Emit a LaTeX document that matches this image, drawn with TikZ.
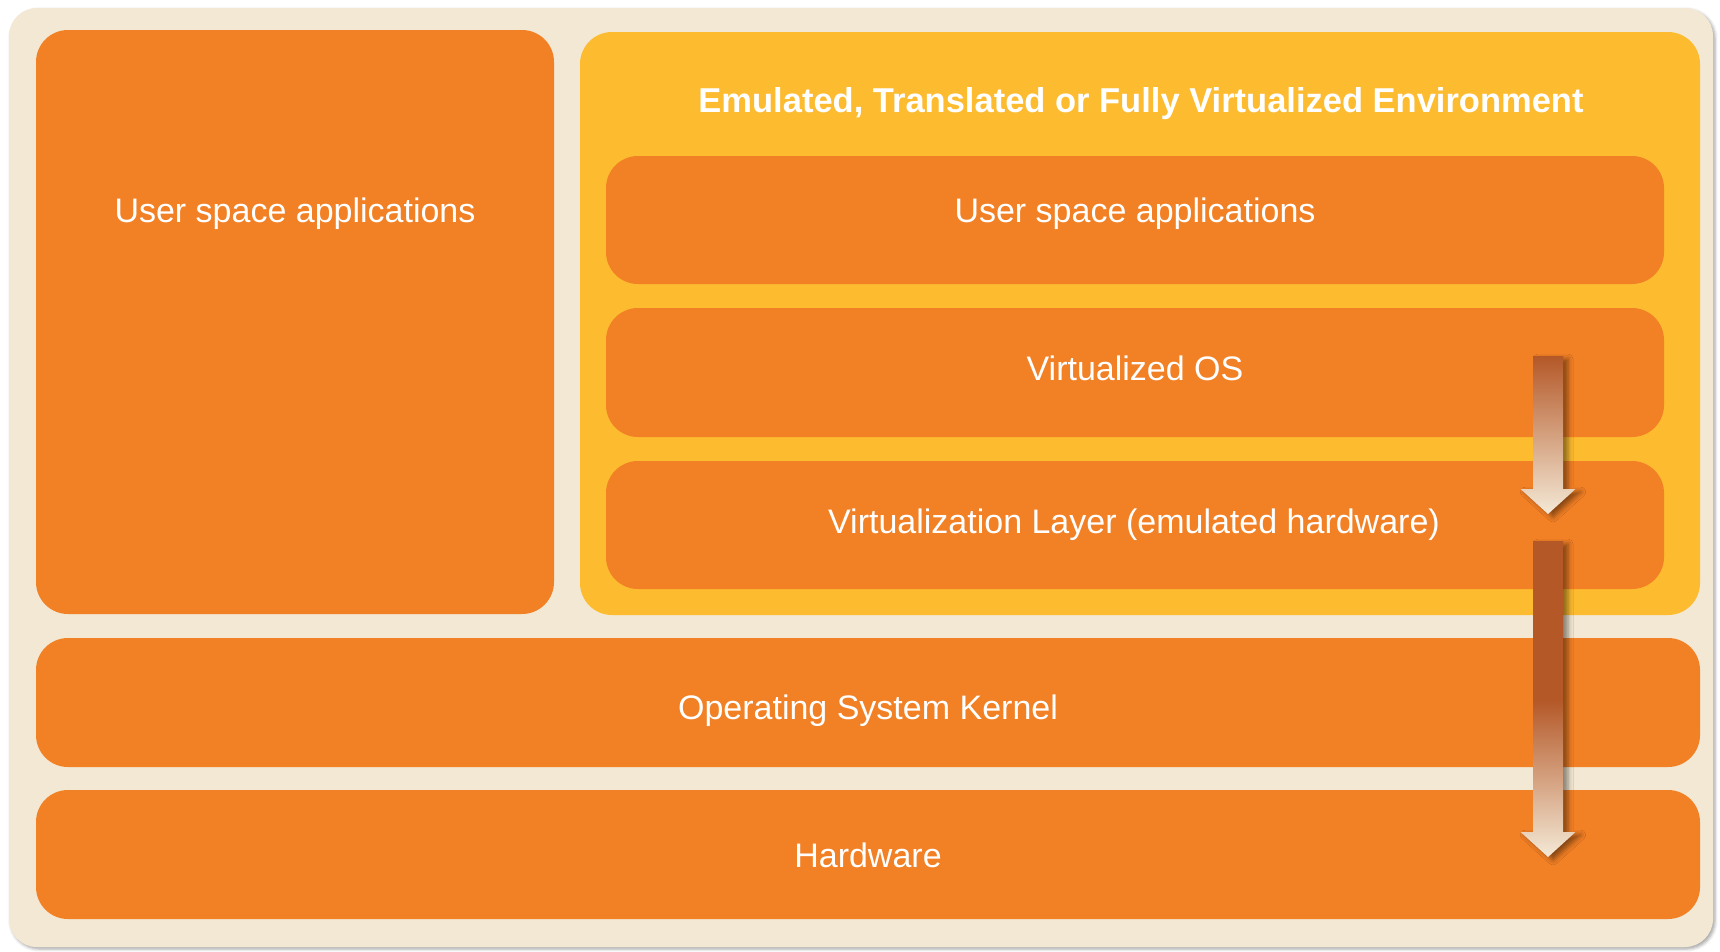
\documentclass[tikz,border=0pt]{standalone}
\usepackage{fontspec}
\setmainfont{Liberation Sans}
\usetikzlibrary{shadows.blur}

\definecolor{framecream}{HTML}{F3E8D3}
\definecolor{layerorange}{HTML}{F28025}
\definecolor{envyellow}{HTML}{FDBB30}
\definecolor{arrowdark}{HTML}{B45828}
\definecolor{arrowlight}{HTML}{F4E9D6}

\begin{document}
\begin{tikzpicture}[x=1pt,y=-1pt,
  panel/.style={rectangle, rounded corners=32pt, inner sep=0pt, draw=none},
  layer/.style={panel, fill=layerorange},
  lbl/.style={text=white, inner sep=0pt, anchor=base,
              font=\fontsize{34}{40}\selectfont},
  titlelbl/.style={lbl, font=\fontsize{34.5}{40}\selectfont\bfseries},
  flowshadow/.style={blur shadow={shadow xshift=5pt, shadow yshift=-3pt,
              shadow blur radius=5pt, shadow opacity=45}}]

\useasboundingbox (0,0) rectangle (1720,951);

% outer frame
\node[panel, rounded corners=28pt, fill=framecream,
      minimum width=1704pt, minimum height=939pt,
      blur shadow={shadow xshift=2pt, shadow yshift=-2pt,
                   shadow blur radius=3pt, shadow opacity=35}]
  (frame) at (861,477.5) {};

% host user space
\node[layer, minimum width=518pt, minimum height=584pt] (hostapps) at (295,322) {};

% virtualized environment
\node[panel, fill=envyellow, minimum width=1120pt, minimum height=583pt] (env) at (1140,323.5) {};
\node[layer, minimum width=1058pt, minimum height=128pt] (guestapps) at (1135,220) {};
\node[layer, minimum width=1058pt, minimum height=129pt] (guestos) at (1135,372.5) {};
\node[layer, minimum width=1058pt, minimum height=128pt] (vlayer) at (1135,525) {};

% host kernel and hardware
\node[layer, minimum width=1664pt, minimum height=129pt] (kernel) at (868,702.5) {};
\node[layer, minimum width=1664pt, minimum height=129pt] (hw) at (868,854.5) {};

% labels
\node[titlelbl] (envT) at (1141,112) {Emulated, Translated or Fully Virtualized Environment};
\node[lbl] (hostappsT) at (295,222) {User space applications};
\node[lbl] (guestappsT) at (1135,222) {User space applications};
\node[lbl] (guestosT) at (1135,380) {Virtualized OS};
\node[lbl] (vlayerT) at (1134,533) {Virtualization Layer (emulated hardware)};
\node[lbl] (kernelT) at (868,719) {Operating System Kernel};
\node[lbl] (hwT) at (868,867) {Hardware};

% flow arrows: guest OS -> virtualization layer -> hardware
\fill[arrowdark, flowshadow]
  (1533,356) -- (1563,356) -- (1563,489) -- (1575.5,489) -- (1548,514)
  -- (1520.5,489) -- (1533,489) -- cycle;
\shade[top color=arrowdark, bottom color=arrowlight]
  (1533,356) -- (1563,356) -- (1563,489) -- (1575.5,489) -- (1548,514)
  -- (1520.5,489) -- (1533,489) -- cycle;

\fill[arrowdark, flowshadow]
  (1533,541) -- (1563,541) -- (1563,832) -- (1575.5,832) -- (1548,857)
  -- (1520.5,832) -- (1533,832) -- cycle;
\shade[top color=arrowdark, bottom color=arrowlight]
  (1533,700) -- (1563,700) -- (1563,832) -- (1575.5,832) -- (1548,857)
  -- (1520.5,832) -- (1533,832) -- cycle;

\end{tikzpicture}
\end{document}
